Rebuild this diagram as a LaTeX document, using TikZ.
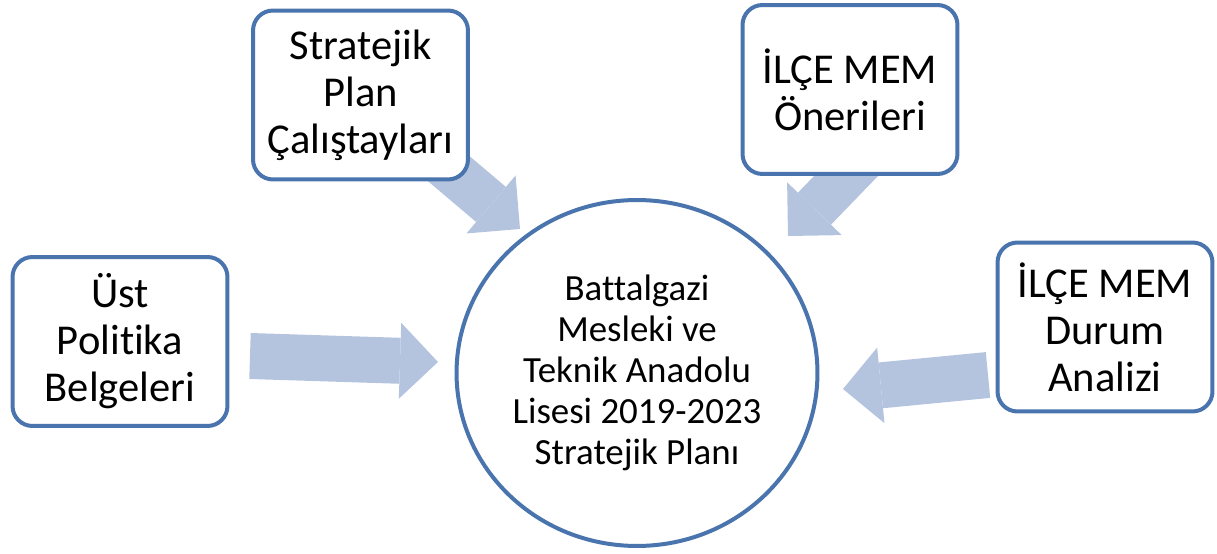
\documentclass[tikz,border=0pt]{standalone}
\usepackage{fontspec}
\setmainfont[Ligatures=NoCommon]{Carlito}
\usetikzlibrary{arrows.meta,shapes.geometric}
\definecolor{kenar}{RGB}{74,116,173}
\definecolor{okmavi}{RGB}{180,196,223}
\tikzset{
    kutu/.style={draw=kenar, line width=0.08cm, fill=white, rounded corners=0.4cm,
        minimum width=4.3cm, minimum height=3.38cm, inner sep=0pt, align=center,
        font=\fontsize{24.2}{26.8}\selectfont},
    merkez/.style={ellipse, draw=kenar, line width=0.08cm, fill=white,
        minimum width=7.22cm, minimum height=6.92cm, inner sep=0pt, align=center,
        font=\fontsize{21}{23.4}\selectfont},
    blokok/.style={draw=okmavi, line width=0.92cm,
        -{Triangle[length=0.76cm, width=1.52cm, line width=0pt]}}
}
\begin{document}
\begin{tikzpicture}[x=0.02cm, y=-0.02cm]
    \useasboundingbox (0, 0) rectangle (1217, 554);

        \coordinate (ok1a) at (250, 356);
        \coordinate (ok1b) at (438, 362);
            \draw[blokok](ok1a) to (ok1b);
        \coordinate (ok2a) at (422, 146);
        \coordinate (ok2b) at (520, 229);
            \draw[blokok](ok2a) to (ok2b);
        \coordinate (ok3a) at (877, 144);
        \coordinate (ok3b) at (788, 236);
            \draw[blokok](ok3a) to (ok3b);
        \coordinate (ok4a) at (988, 375);
        \coordinate (ok4b) at (843, 389);
            \draw[blokok](ok4a) to (ok4b);

    \node[kutu] (ustpol) at(120, 341.5){Üst\\Politika\\Belgeleri};
    \node[kutu] (calistay) at(360.5, 95){Stratejik\\Plan\\Çalıştayları};
    \node[kutu] (oneri) at(850, 89.5){İLÇE MEM\\Önerileri};
    \node[kutu] (durum) at(1105, 327){İLÇE MEM\\Durum\\Analizi};

    \node[merkez] (plan) at(637, 373){Battalgazi\\Mesleki ve\\Teknik Anadolu\\Lisesi 2019-2023\\Stratejik Planı};

\end{tikzpicture}
\end{document}
